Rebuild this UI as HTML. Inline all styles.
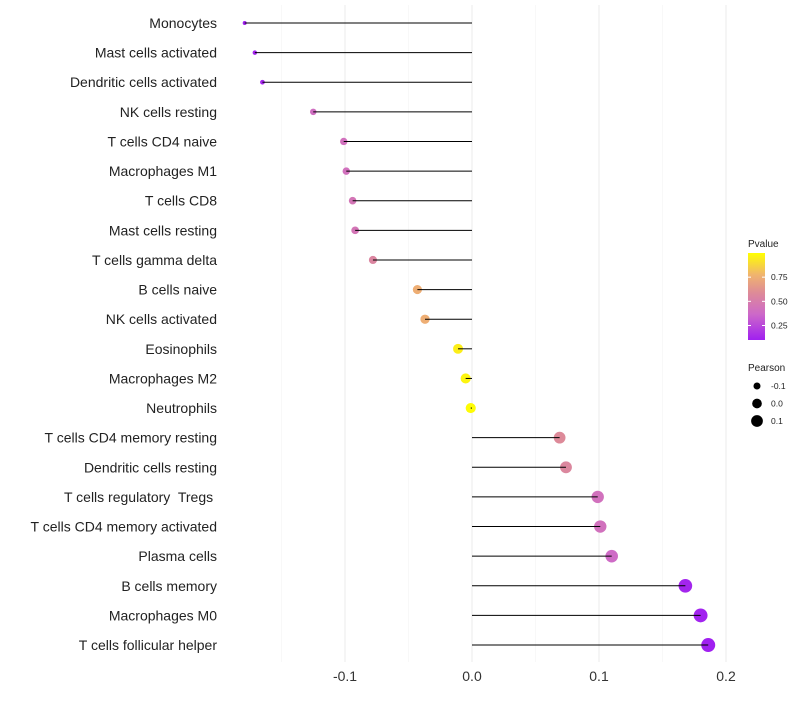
<!DOCTYPE html>
<html><head><meta charset="utf-8"><style>
body{margin:0;background:#fff;font-family:"Liberation Sans",sans-serif}
text{white-space:pre}
</style></head><body>
<svg id="c" width="800" height="700" xmlns="http://www.w3.org/2000/svg"></svg>
<script>
const categories=["Monocytes","Mast cells activated","Dendritic cells activated","NK cells resting","T cells CD4 naive","Macrophages M1","T cells CD8","Mast cells resting","T cells gamma delta","B cells naive","NK cells activated","Eosinophils","Macrophages M2","Neutrophils","T cells CD4 memory resting","Dendritic cells resting","T cells regulatory  Tregs ","T cells CD4 memory activated","Plasma cells","B cells memory","Macrophages M0","T cells follicular helper"];
const pearson=[-0.179,-0.171,-0.165,-0.125,-0.101,-0.099,-0.094,-0.092,-0.078,-0.043,-0.037,-0.011,-0.005,-0.001,0.069,0.074,0.099,0.101,0.110,0.168,0.180,0.186];
const pvalues=[0.10,0.12,0.13,0.40,0.42,0.42,0.45,0.45,0.55,0.75,0.75,0.95,0.97,0.99,0.58,0.56,0.42,0.42,0.38,0.12,0.11,0.10];
const xTicks=[-0.1,0.0,0.1,0.2];
const xTickLabels=["-0.1","0.0","0.1","0.2"];
const minorTicks=[-0.15,-0.05,0.05,0.15];
const pTicks=[0.25,0.5,0.75];
const pTickLabels=["0.25","0.50","0.75"];
const sizeTicks=[-0.1,0.0,0.1];
const sizeTickLabels=["-0.1","0.0","0.1"];

const NS="http://www.w3.org/2000/svg";
const svg=document.getElementById('c');
function el(t,a,p){const e=document.createElementNS(NS,t);for(const k in a)e.setAttribute(k,a[k]);(p||svg).appendChild(e);return e;}
const x=v=>472+v*1270;
const y=i=>23+i*29.62;
const pMin=0.10,pMax=1.0;
const stopPos=[0,0.3,0.55,0.75,1];
const stopCol=[[160,32,240],[205,105,200],[222,140,150],[240,180,110],[255,255,0]];
function col(p){const t=Math.max(0,Math.min(1,(p-pMin)/(pMax-pMin)));
 let i=0;while(i<stopPos.length-2&&t>stopPos[i+1])i++;
 const f=(t-stopPos[i])/(stopPos[i+1]-stopPos[i]);
 const c=stopCol[i].map((v,k)=>Math.round(v+(stopCol[i+1][k]-v)*f));return `rgb(${c})`;}
const rad=v=>Math.sqrt(Math.max(1,26+123*v));

minorTicks.forEach(v=>{const l=el('line',{x1:x(v),x2:x(v),y1:5,y2:662,stroke:'#f4f4f4','stroke-width':0.6});
});
xTicks.forEach((v,i)=>{const l=el('line',{x1:x(v),x2:x(v),y1:5,y2:662,stroke:'#ebebeb','stroke-width':1});

const t=el('text',{x:x(v),y:681,'text-anchor':'middle','font-size':14,fill:'#333'});t.textContent=xTickLabels[i];
});

categories.forEach((c,i)=>{
 const t=el('text',{x:217,y:y(i)+5,'text-anchor':'end','font-size':14,fill:'#222'});t.textContent=c;
 
 const d=el('circle',{cx:x(pearson[i]),cy:y(i),r:rad(pearson[i]),fill:col(pvalues[i])});
 
 const l=el('line',{x1:x(0),x2:x(pearson[i]),y1:y(i),y2:y(i),stroke:'#000','stroke-width':1});
 
});

const lt=el('text',{x:748,y:247,'font-size':10,fill:'#222'});lt.textContent='Pvalue';

const defs=el('defs',{});const g=el('linearGradient',{id:'pg',x1:0,y1:1,x2:0,y2:0},defs);
for(let k=0;k<=20;k++){el('stop',{offset:k/20,'stop-color':col(pMin+(pMax-pMin)*k/20)},g);}
const barTop=253,barBot=340;
const py=p=>barBot-(p-pMin)/(pMax-pMin)*(barBot-barTop);
const cb=el('rect',{x:748,y:barTop,width:17,height:barBot-barTop,fill:'url(#pg)'});

pTicks.forEach((p,i)=>{el('line',{x1:748,x2:751,y1:py(p),y2:py(p),stroke:'#fff'});el('line',{x1:762,x2:765,y1:py(p),y2:py(p),stroke:'#fff'});
 const t=el('text',{x:771,y:py(p)+3,'font-size':8.5,fill:'#222'});t.textContent=pTickLabels[i];
 });
const st=el('text',{x:748,y:371,'font-size':10,fill:'#222'});st.textContent='Pearson';

sizeTicks.forEach((v,i)=>{const cy=386+i*17.5;
 const c=el('circle',{cx:757,cy:cy,r:rad(v)*0.95,fill:'#000'});
 const t=el('text',{x:771,y:cy+3,'font-size':8.5,fill:'#222'});t.textContent=sizeTickLabels[i];
 });
</script>
</body></html>
